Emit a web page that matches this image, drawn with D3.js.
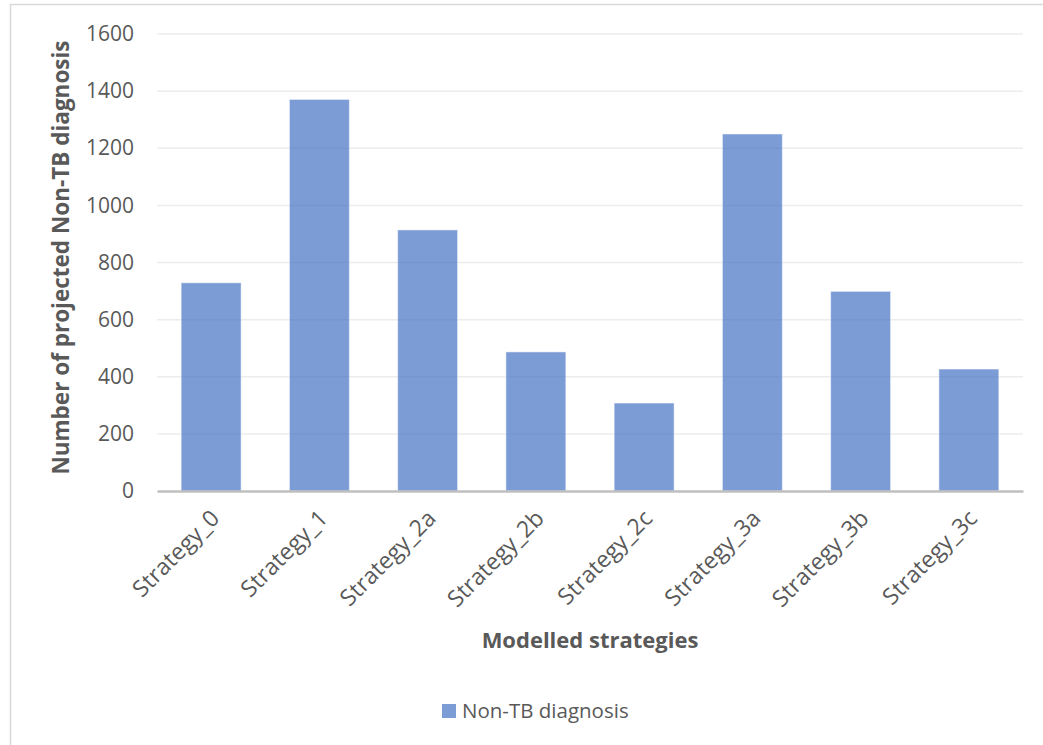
<!DOCTYPE html>
<html>
<head>
<meta charset="utf-8">
<script src="https://cdn.jsdelivr.net/npm/d3@7/dist/d3.min.js"></script>
<style>
  html, body { margin: 0; padding: 0; background: #fff; }
  svg { display: block; font-family: "Open Sans", "Noto Sans", sans-serif; }
</style>
</head>
<body>
<svg id="chart" width="1043" height="745"></svg>
<script>
// Projected non-TB diagnoses per modelled strategy
const strategies = ["Strategy_0", "Strategy_1", "Strategy_2a", "Strategy_2b",
                    "Strategy_2c", "Strategy_3a", "Strategy_3b", "Strategy_3c"];
const nonTbDiagnosis = [729, 1371, 914, 487, 308, 1250, 699, 427];
const yTicks = [0, 200, 400, 600, 800, 1000, 1200, 1400, 1600];
const seriesName = "Non-TB diagnosis";

const svg = d3.select("#chart");
const W = 1043, H = 745;
const plot = { left: 157, right: 1023, top: 34, bottom: 491 };

// chart frame (right and bottom edges fall outside the view)
svg.append("rect")
  .attr("x", 10.5).attr("y", 4.5)
  .attr("width", W + 20).attr("height", H + 20)
  .attr("fill", "#fff").attr("stroke", "#d9d9d9").attr("stroke-width", 1.5);

const x = d3.scaleBand()
  .domain(strategies)
  .range([plot.left, plot.right])
  .paddingInner(0.446).paddingOuter(0.223);

const y = d3.scaleLinear().domain([0, 1600]).range([plot.bottom, plot.top]);

// horizontal gridlines
svg.append("g")
  .selectAll("line")
  .data(yTicks.filter(t => t > 0))
  .join("line")
  .attr("x1", plot.left).attr("x2", plot.right)
  .attr("y1", d => y(d)).attr("y2", d => y(d))
  .attr("stroke", "#ececec").attr("stroke-width", 1.5);

// y axis labels
const yAxis = svg.append("g")
  .attr("transform", `translate(${plot.left - 23},0)`)
  .call(d3.axisLeft(y).tickValues(yTicks).tickSize(0).tickPadding(0).tickFormat(d3.format("d")));
yAxis.select(".domain").remove();
yAxis.selectAll("text")
  .attr("fill", "#595959")
  .style("font-size", "21px")
  .style("font-family", "'Open Sans', sans-serif");

// bars
svg.append("g")
  .selectAll("rect")
  .data(strategies.map((s, i) => ({ s, v: nonTbDiagnosis[i] })))
  .join("rect")
  .attr("x", d => x(d.s))
  .attr("width", x.bandwidth())
  .attr("y", d => y(d.v))
  .attr("height", d => y(0) - y(d.v))
  .attr("fill", "#4472c4").attr("fill-opacity", 0.7)
  .attr("stroke", "#ffffff").attr("stroke-opacity", 0.5).attr("stroke-width", 1);

// baseline / x axis
const xAxis = svg.append("g")
  .attr("transform", `translate(0,${plot.bottom})`)
  .call(d3.axisBottom(x).tickSize(0).tickPadding(0));
xAxis.select(".domain").attr("stroke", "#bfbfbf").attr("stroke-width", 2.5);
xAxis.selectAll(".tick text")
  .attr("fill", "#595959")
  .style("font-size", "23px")
  .style("font-family", "'Open Sans', sans-serif")
  .attr("text-anchor", "end")
  .attr("dy", "0.35em")
  .attr("y", 0)
  .attr("transform", "translate(4,23) rotate(-45)");

// axis titles
svg.append("text")
  .attr("transform", `translate(69,${(plot.top + plot.bottom) / 2 - 5}) rotate(-90)`)
  .attr("text-anchor", "middle")
  .attr("fill", "#595959")
  .style("font-size", "22.5px").style("font-weight", "bold")
  .text("Number of projected Non-TB diagnosis");

svg.append("text")
  .attr("x", (plot.left + plot.right) / 2).attr("y", 648)
  .attr("text-anchor", "middle")
  .attr("fill", "#595959")
  .style("font-size", "22px").style("font-weight", "bold")
  .text("Modelled strategies");

// legend
const legend = svg.append("g").attr("transform", "translate(442,704)");
legend.append("rect")
  .attr("width", 14).attr("height", 14)
  .attr("fill", "#4472c4").attr("fill-opacity", 0.7);
legend.append("text")
  .attr("x", 20).attr("y", 7).attr("dy", "0.35em")
  .attr("fill", "#595959")
  .style("font-size", "20.5px")
  .text(seriesName);
</script>
</body>
</html>
